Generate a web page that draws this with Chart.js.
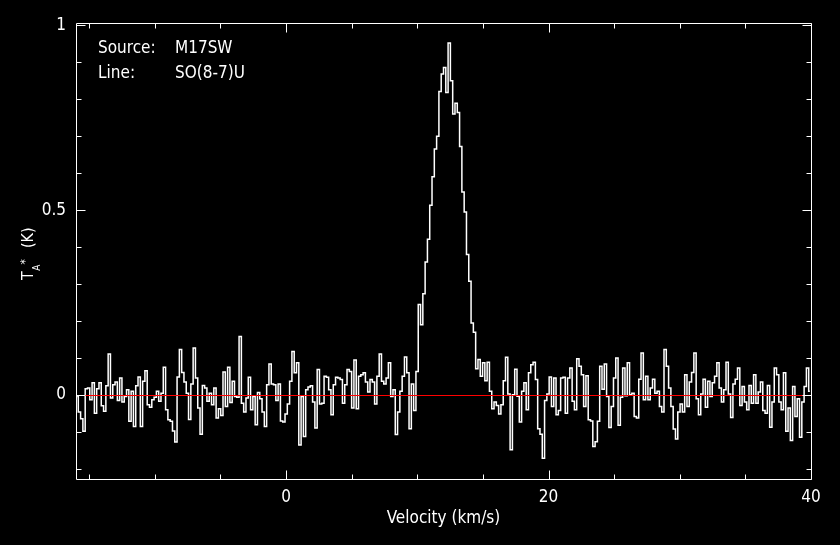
<!DOCTYPE html>
<html>
<head>
<meta charset="utf-8">
<script src="https://cdn.jsdelivr.net/npm/chart.js@4.4.1/dist/chart.umd.min.js"></script>
<style>
  html, body { margin: 0; padding: 0; background: #000; overflow: hidden; }
  #wrap { width: 840px; height: 545px; position: relative; }
</style>
</head>
<body>
<div id="wrap"><canvas id="c" width="840" height="545"></canvas></div>
<script>
// ---------------- data ----------------
// Spectral axis: first channel edge and channel width (km/s)
const CHANNEL_START_KMS = -16.0;
const CHANNEL_WIDTH_KMS = 0.175;

// Antenna temperature T_A* (K) per channel
const TA_STAR_K = [
  -0.004, -0.046, -0.064, -0.098, 0.017, 0.019, -0.013, 0.033, -0.049, 0.017,
  0.033, -0.029, -0.044, 0.025, 0.111, -0.008, 0.028, 0.035, -0.015, 0.046,
  -0.019, -0.004, 0.014, -0.071, 0.010, -0.085, 0.025, 0.049, -0.085, 0.037,
  0.066, -0.026, -0.033, -0.013, -0.006, 0.010, -0.017, 0.005, 0.075, -0.040,
  -0.067, -0.071, -0.097, -0.127, 0.049, 0.123, 0.061, 0.035, 0.005, -0.066,
  0.030, 0.127, 0.046, -0.035, -0.106, 0.026, 0.019, -0.017, 0.005, -0.026,
  0.019, -0.062, -0.037, -0.055,
  0.062, -0.031, 0.075, -0.020, 0.037, -0.004, -0.006, 0.158, -0.022, -0.046,
  -0.008, 0.048, -0.040, -0.004, -0.080, 0.007, -0.010, -0.046, -0.085, 0.028,
  0.084, 0.030, 0.028, -0.015, 0.030, -0.070, -0.073, -0.051, -0.024, 0.037,
  0.118, 0.060, 0.087, -0.135, -0.004, -0.112, 0.014, 0.022, 0.025, -0.019,
  -0.089, 0.069, -0.024, -0.022, 0.051, 0.048, 0.014, -0.053, 0.028, 0.048,
  0.046, 0.042, -0.022, 0.028, 0.069, 0.064, -0.035, 0.095, -0.037, 0.051,
  0.055, 0.060, 0.035,
  0.008, 0.042, 0.035, -0.024, 0.051, 0.111, 0.037, 0.030, 0.046, 0.087,
  -0.004, 0.014, -0.107, -0.046, 0.010, 0.051, 0.103, 0.060, -0.091, 0.030,
  -0.042, 0.064,
  0.245, 0.190, 0.274, 0.360, 0.421, 0.513, 0.590, 0.665, 0.700, 0.821,
  0.868, 0.886, 0.818, 0.952, 0.850, 0.760, 0.789, 0.764, 0.672, 0.549,
  0.495, 0.380, 0.308,
  0.195, 0.170, 0.071, 0.096, 0.051, 0.087, 0.039, 0.089, 0.010, -0.037,
  -0.019, -0.028, -0.051, -0.026, 0.039, 0.102, 0.003, -0.148, 0.001, 0.070,
  -0.003, -0.073, 0.010, 0.033, -0.040, 0.060, 0.082, 0.089, 0.042, -0.091,
  -0.106, -0.171, -0.015, 0.003, 0.049, -0.031, 0.046, -0.053, -0.042, 0.046,
  0.048, -0.049, 0.046, 0.073, -0.017, -0.040, 0.098, 0.078, 0.055, -0.031,
  0.052, -0.067, -0.070, -0.139, -0.126, -0.071, 0.078, 0.016, 0.084, -0.004,
  -0.088, -0.031, 0.046, 0.100, -0.082, -0.006, 0.073, -0.002, 0.087, 0.001,
  0.005, -0.058, -0.062, 0.043, 0.114, -0.013, 0.051, -0.013, 0.019, 0.043,
  0.005, 0.010, -0.031,
  -0.046, 0.123, 0.078, 0.019, -0.031, -0.092, -0.119, -0.046, -0.024, -0.046,
  0.055, -0.031, 0.035, 0.061, 0.114, -0.010, -0.053, 0.003, 0.043, -0.033,
  0.037, -0.004, 0.033, 0.051, 0.087, 0.019, -0.019, 0.014, 0.089, 0.003,
  -0.061, 0.030, 0.043, 0.073, -0.028, 0.023, -0.019, -0.040, 0.026, -0.022,
  0.055, -0.022, 0.008, 0.035, -0.042, -0.049, 0.026, -0.087, -0.019, 0.073,
  0.055, -0.019, -0.040, 0.060, -0.098, -0.035, -0.123, 0.023, -0.058, -0.010,
  -0.114, -0.019, 0.023, 0.073, 0.010
];

// Axis ranges and tick labels
const X_RANGE = [-16, 40];
const Y_RANGE = [-0.227, 1.006];
const X_MINOR_STEP = 5;
const Y_MINOR_STEP = 0.1;
const X_TICK_LABELS = [0, 20, 40];
const Y_TICK_LABELS = [0, 0.5, 1];
const X_TITLE = "Velocity (km/s)";
const INFO_KEYS = ["Source:", "Line:"];
const INFO_VALUES = ["M17SW", "SO(8-7)U"];

// ---------------- chart ----------------
const FONT_FAMILY = "'DejaVu Sans Condensed', 'DejaVu Sans', sans-serif";
const points = TA_STAR_K.map((t, i) => ({
  x: CHANNEL_START_KMS + (i + 0.5) * CHANNEL_WIDTH_KMS,
  y: t
}));

const near = (a, b) => Math.abs(a - b) < 1e-6;
const isLabeled = (list, v) => list.some(l => near(l, v));

const decor = {
  id: 'decor',
  beforeDraw(chart) {
    const ctx = chart.ctx;
    ctx.save();
    ctx.fillStyle = '#000';
    ctx.fillRect(0, 0, chart.width, chart.height);
    ctx.restore();
  },
  afterDatasetsDraw(chart) {
    const { ctx, chartArea: a, scales } = chart;
    const xs = scales.x, ys = scales.y;
    const L = Math.round(a.left) + 0.5, R = Math.round(a.right) + 0.5;
    const T = Math.round(a.top) + 0.5, B = Math.round(a.bottom) + 0.5;
    ctx.save();
    ctx.lineWidth = 1;
    // zero baseline
    const y0 = Math.round(ys.getPixelForValue(0)) + 0.5;
    ctx.strokeStyle = '#ff0000';
    ctx.beginPath(); ctx.moveTo(L, y0); ctx.lineTo(R, y0); ctx.stroke();
    // frame
    ctx.strokeStyle = '#ffffff';
    ctx.beginPath();
    ctx.moveTo(L, T); ctx.lineTo(R, T); ctx.lineTo(R, B); ctx.lineTo(L, B); ctx.closePath();
    ctx.stroke();
    // x ticks (inward, bottom and top)
    ctx.beginPath();
    xs.ticks.forEach(t => {
      const px = Math.round(xs.getPixelForValue(t.value)) + 0.5;
      const len = isLabeled(X_TICK_LABELS, t.value) ? 9 : 5;
      ctx.moveTo(px, B); ctx.lineTo(px, B - len);
      ctx.moveTo(px, T); ctx.lineTo(px, T + len);
    });
    // y ticks (inward, left and right)
    ys.ticks.forEach(t => {
      const py = Math.round(ys.getPixelForValue(t.value)) + 0.5;
      const len = isLabeled(Y_TICK_LABELS, t.value) ? 9 : 5;
      ctx.moveTo(L, py); ctx.lineTo(L + len, py);
      ctx.moveTo(R, py); ctx.lineTo(R - len, py);
    });
    ctx.stroke();

    // info text
    ctx.fillStyle = '#ffffff';
    ctx.font = "17px " + FONT_FAMILY;
    ctx.textAlign = 'left';
    ctx.textBaseline = 'alphabetic';
    INFO_KEYS.forEach((k, i) => {
      const by = a.top + 30 + i * 25;
      ctx.fillText(k, a.left + 22, by);
      ctx.fillText(INFO_VALUES[i], a.left + 99, by);
    });

    // y-axis title: T_A^* (K), rotated
    ctx.translate(33, 280);
    ctx.rotate(-Math.PI / 2);
    ctx.font = "16px " + FONT_FAMILY;
    ctx.fillText("T", 0, 0);
    const tw = ctx.measureText("T").width;
    ctx.font = "10px " + FONT_FAMILY;
    ctx.fillText("A", tw + 0.5, 6.5);
    const aw = ctx.measureText("A").width;
    ctx.font = "12px " + FONT_FAMILY;
    ctx.fillText("*", tw + aw + 0.5, -4);
    ctx.font = "16px " + FONT_FAMILY;
    ctx.fillText("(K)", 32, 0);
    ctx.restore();
  }
};

new Chart(document.getElementById('c'), {
  type: 'line',
  data: {
    datasets: [{
      data: points,
      borderColor: '#ffffff',
      borderWidth: 1.5,
      pointRadius: 0,
      stepped: 'middle',
      fill: false
    }]
  },
  options: {
    responsive: false,
    animation: false,
    devicePixelRatio: 1,
    parsing: false,
    layout: { padding: { left: 0, top: 23, right: 29, bottom: 0 } },
    plugins: { legend: { display: false }, tooltip: { enabled: false } },
    scales: {
      x: {
        type: 'linear',
        min: X_RANGE[0], max: X_RANGE[1],
        grid: { display: false, drawTicks: false },
        border: { display: false },
        ticks: {
          stepSize: X_MINOR_STEP, includeBounds: false, autoSkip: false, maxRotation: 0,
          color: '#ffffff', padding: 8, font: { family: FONT_FAMILY, size: 17 },
          callback: v => isLabeled(X_TICK_LABELS, v) ? String(Math.round(v)) : ''
        },
        title: {
          display: true, text: X_TITLE, color: '#ffffff',
          font: { family: FONT_FAMILY, size: 17 }, padding: { top: 0, bottom: 16 }
        },
        afterFit: s => { s.height = 66; }
      },
      y: {
        type: 'linear',
        min: Y_RANGE[0], max: Y_RANGE[1],
        grid: { display: false, drawTicks: false },
        border: { display: false },
        ticks: {
          stepSize: Y_MINOR_STEP, includeBounds: false, autoSkip: false,
          color: '#ffffff', padding: 10, font: { family: FONT_FAMILY, size: 17 },
          callback: v => isLabeled(Y_TICK_LABELS, v) ? String(Math.round(v * 10) / 10) : ''
        },
        afterFit: s => { s.width = 76; }
      }
    }
  },
  plugins: [decor]
});
</script>
</body>
</html>
